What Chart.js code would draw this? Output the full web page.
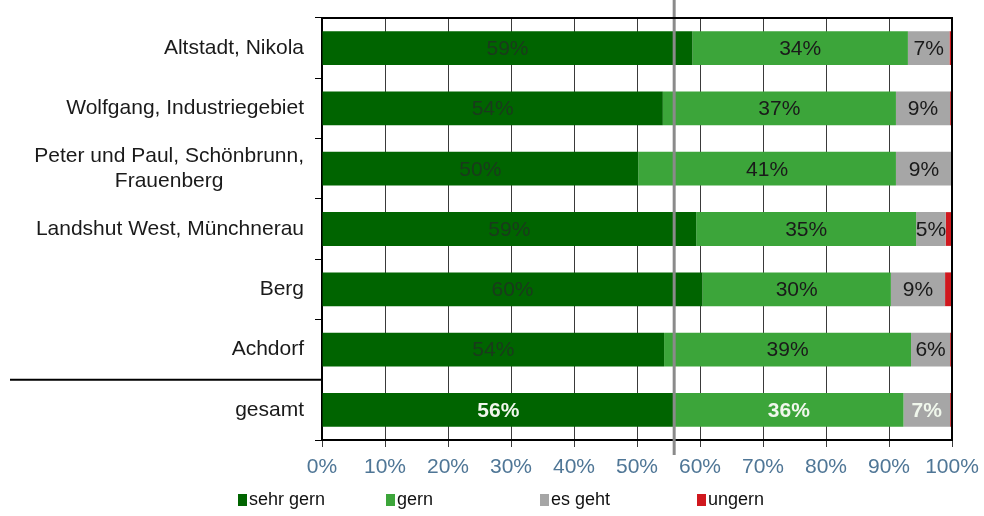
<!DOCTYPE html>
<html>
<head>
<meta charset="utf-8">
<script src="https://cdn.jsdelivr.net/npm/chart.js@4/dist/chart.umd.min.js"></script>
<style>
  html, body { margin: 0; padding: 0; background: #fff; }
  #wrap { width: 984px; height: 516px; }
</style>
</head>
<body>
<div id="wrap"><canvas id="myChart"></canvas></div>
<script>
// categories (top to bottom)
var categories = [
    'Altstadt, Nikola',
    'Wolfgang, Industriegebiet',
    ['Peter und Paul, Schönbrunn,', 'Frauenberg'],
    'Landshut West, Münchnerau',
    'Berg',
    'Achdorf',
    'gesamt'
];

// shares in percent
var sehrGern = [58.8, 54.1, 50.2, 59.4, 60.4, 54.3, 55.9];
var gern     = [34.2, 37.0, 40.9, 34.9, 29.9, 39.2, 36.4];
var esGeht   = [6.6, 8.6, 8.9, 4.7, 8.6, 6.2, 7.4];
var ungern   = [0.4, 0.3, 0.0, 1.0, 1.1, 0.3, 0.3];

var seriesNames = ['sehr gern', 'gern', 'es geht', 'ungern'];
var xTicks = [0, 10, 20, 30, 40, 50, 60, 70, 80, 90, 100];

var colors = ['#006400', '#3ca53a', '#a6a6a6', '#d0181e'];
var FONT = '"Liberation Sans", Arial, sans-serif';

var decor = {
    id: 'decor',
    afterDatasetsDraw: function (chart) {
        var ctx = chart.ctx;
        var area = chart.chartArea;
        var xs = chart.scales.x, ys = chart.scales.y;
        ctx.save();

        // value labels inside the segments
        ctx.textAlign = 'center';
        ctx.textBaseline = 'middle';
        for (var d = 0; d < 3; d++) {
            var meta = chart.getDatasetMeta(d);
            meta.data.forEach(function (el, i) {
                var v = chart.data.datasets[d].data[i];
                var last = i === categories.length - 1;
                ctx.font = (last ? 'bold ' : '') + '21px ' + FONT;
                ctx.fillStyle = last ? '#f0f7ec' : (d === 0 ? '#1a3a1c' : '#1a1a1a');
                ctx.fillText(Math.round(v) + '%', (el.x + el.base) / 2, el.y + 1);
            });
        }

        // reference line at the overall "sehr gern" share
        var rx = xs.getPixelForValue(sehrGern[sehrGern.length - 1]);
        ctx.strokeStyle = '#8a8a8a';
        ctx.lineWidth = 3;
        ctx.beginPath();
        ctx.moveTo(rx, 0);
        ctx.lineTo(rx, area.bottom + 15);
        ctx.stroke();

        // frame: top and right
        ctx.strokeStyle = '#000';
        ctx.lineWidth = 2;
        ctx.beginPath();
        ctx.moveTo(area.left, area.top);
        ctx.lineTo(area.right, area.top);
        ctx.lineTo(area.right, area.bottom);
        ctx.stroke();

        // separator above "gesamt"
        var n = categories.length;
        var sy = (ys.getPixelForValue(n - 2) + ys.getPixelForValue(n - 1)) / 2;
        ctx.beginPath();
        ctx.moveTo(10, sy);
        ctx.lineTo(area.left, sy);
        ctx.stroke();

        // category labels
        ctx.font = '21px ' + FONT;
        ctx.fillStyle = '#1a1a1a';
        var rightX = area.left - 18;
        categories.forEach(function (lab, i) {
            var y = ys.getPixelForValue(i);
            if (Array.isArray(lab)) {
                var w = 0;
                lab.forEach(function (t) { w = Math.max(w, ctx.measureText(t).width); });
                var cx = rightX - w / 2;
                ctx.textAlign = 'center';
                lab.forEach(function (t, k) {
                    ctx.fillText(t, cx, y + (k - (lab.length - 1) / 2) * 25);
                });
            } else {
                ctx.textAlign = 'right';
                ctx.fillText(lab, rightX, y);
            }
        });

        // legend
        var legendX = [238, 386, 540, 697];
        var ly = 500;
        ctx.font = '18px ' + FONT;
        ctx.textAlign = 'left';
        chart.data.datasets.forEach(function (ds, k) {
            ctx.fillStyle = ds.backgroundColor;
            ctx.fillRect(legendX[k], ly - 6, 9, 12);
            ctx.fillStyle = '#111';
            ctx.fillText(ds.label, legendX[k] + 11, ly);
        });

        ctx.restore();
    }
};

var seriesData = [sehrGern, gern, esGeht, ungern];
var datasets = seriesData.map(function (arr, k) {
    return {
        label: seriesNames[k],
        data: arr,
        backgroundColor: colors[k],
        borderWidth: 0,
        barPercentage: 0.56,
        categoryPercentage: 1.0
    };
});

var ctx = document.getElementById('myChart');
var myChart = new Chart(ctx, {
    type: 'bar',
    data: {
        labels: categories,
        datasets: datasets
    },
    options: {
        indexAxis: 'y',
        responsive: true,
        maintainAspectRatio: false,
        animation: false,
        layout: { padding: { top: 18, right: 32, left: 4, bottom: 0 } },
        plugins: {
            legend: { display: false },
            tooltip: { enabled: false }
        },
        scales: {
            x: {
                stacked: true,
                min: 0,
                max: 100,
                afterBuildTicks: function (scale) {
                    scale.ticks = xTicks.map(function (v) { return { value: v }; });
                },
                afterFit: function (scale) {
                    scale.height = 76;
                    scale.paddingLeft = 0;
                    scale.paddingRight = 0;
                },
                grid: { color: '#3a3a3a', lineWidth: 1, tickLength: 7, drawTicks: true },
                border: { color: '#000', width: 2 },
                ticks: {
                    padding: 8,
                    color: '#4f7696',
                    font: { family: FONT, size: 21 },
                    callback: function (v) { return v + '%'; }
                }
            },
            y: {
                stacked: true,
                afterFit: function (scale) { scale.width = 318; },
                grid: { drawOnChartArea: false, drawTicks: true, tickLength: 7, color: '#000', offset: true },
                border: { color: '#000', width: 2 },
                ticks: { display: false }
            }
        }
    },
    plugins: [decor]
});
</script>
</body>
</html>
